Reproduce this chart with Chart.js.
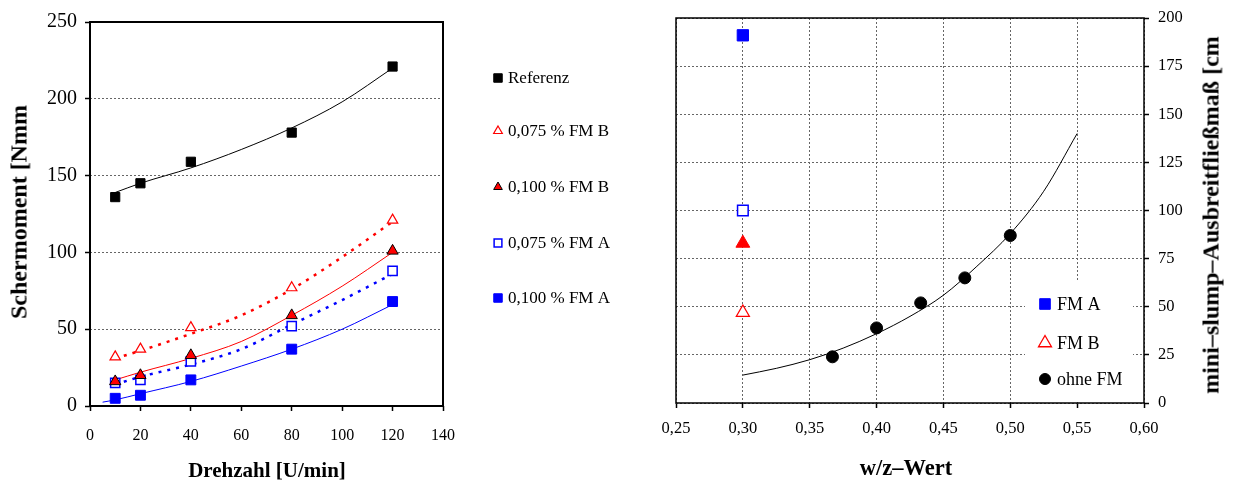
<!DOCTYPE html>
<html>
<head>
<meta charset="utf-8">
<script src="https://cdn.jsdelivr.net/npm/chart.js@4/dist/chart.umd.min.js"></script>
<style>
html, body { margin: 0; padding: 0; background: #fff; }
body { width: 1233px; height: 481px; position: relative; overflow: hidden; font-family: 'Liberation Serif', 'Times New Roman', serif; }
.box { position: absolute; top: 0; }
.box canvas { display: block; }
.title { position: absolute; font-weight: bold; white-space: nowrap; color: #000; transform: translate(-50%, -50%); }
.rot { transform: translate(-50%, -50%) rotate(-90deg); }
</style>
</head>
<body>
<div class="box" style="left:0"><canvas id="torque" width="660" height="481"></canvas></div>
<div class="box" style="left:660px"><canvas id="slump" width="573" height="481"></canvas></div>
<div class="title rot" style="left:19px;top:212px;font-size:24px">Schermoment [Nmm</div>
<div class="title" style="left:267px;top:470px;font-size:21px">Drehzahl [U/min]</div>
<div class="title" style="left:906px;top:468px;font-size:22.5px">w/z–Wert</div>
<div class="title rot" style="left:1211px;top:215px;font-size:24px">mini–slump–Ausbreitfließmaß [cm</div>
<script>
// left chart: Schermoment vs Drehzahl
const rpm = [10, 20, 40, 80, 120];
const torqueRef = [136, 145, 159, 178, 221];
const torqueB075 = [32, 37, 51, 77, 121];
const torqueB100 = [16, 20, 33, 59, 101];
const torqueA075 = [15, 17, 29, 52, 88];
const torqueA100 = [5, 7, 17, 37, 68];

// trend curves
const trendRpm = [10, 20, 40, 60, 80, 100, 120];
const trendRef = [139, 145, 155, 167, 181, 198, 220];
const trendB075 = [31, 36, 47, 59, 76, 97, 120];
const trendB100 = [17, 22, 31, 42, 59, 78, 100];
const trendA075 = [14, 19, 27, 37, 53, 69, 86];
const trendRpmA100 = [5, 10, 20, 40, 60, 80, 100, 120];
const trendA100 = [2.5, 4, 8, 16, 26, 37, 50, 66];

// right chart: mini-slump vs w/z
const wzOhneFM = [0.367, 0.40, 0.433, 0.466, 0.50];
const slumpOhneFM = [24, 39, 52, 65, 87];
const wzFM = [0.30];
const slumpA100 = [191];
const slumpA075 = [100];
const slumpB100 = [83];
const slumpB075 = [47];
const trendWz = [0.30, 0.325, 0.35, 0.375, 0.40, 0.425, 0.45, 0.475, 0.50, 0.525, 0.55];
const trendSlump = [14.5, 18, 22.5, 28.5, 36, 45, 56, 71, 88, 110, 140];
const wzTickLabels = ['0,25', '0,30', '0,35', '0,40', '0,45', '0,50', '0,55', '0,60'];

const FONT = "'Liberation Serif', 'Times New Roman', serif";
const pts = (xs, ys) => xs.map((x, i) => ({ x: x, y: ys[i] }));

const marks = (label, xs, ys, style, r, fill, stroke, bw) => ({
  label: label, data: pts(xs, ys), showLine: false,
  pointStyle: style, pointRadius: r, pointHoverRadius: r,
  backgroundColor: fill, borderColor: stroke, borderWidth: bw
});
const trend = (xs, ys, color, width, dash) => ({
  label: '', data: pts(xs, ys), showLine: true, pointRadius: 0, pointHoverRadius: 0,
  borderColor: color, borderWidth: width, borderDash: dash, cubicInterpolationMode: 'monotone', fill: false
});

// no extra room for edge tick labels, the plot box is fixed
const fixW = w => s => { s.width = w; s.paddingTop = 0; s.paddingBottom = 0; };
const fixH = h => s => { s.height = h; s.paddingLeft = 0; s.paddingRight = 0; };

const frame = {
  id: 'frame',
  afterDraw(chart, args, opts) {
    const { ctx, chartArea: a } = chart;
    ctx.save();
    ctx.strokeStyle = '#000';
    ctx.lineWidth = opts.width || 1.5;
    ctx.strokeRect(a.left, a.top, a.right - a.left, a.bottom - a.top);
    ctx.restore();
  }
};

const markerLegend = {
  id: 'markerLegend',
  afterDatasetsDraw(chart, args, opts) {
    const ctx = chart.ctx;
    ctx.save();
    if (opts.clear) {
      ctx.fillStyle = '#fff';
      ctx.fillRect(opts.clear[0], opts.clear[1], opts.clear[2], opts.clear[3]);
    }
    ctx.font = opts.font;
    ctx.textBaseline = 'middle';
    opts.items.forEach(it => {
      const ds = chart.data.datasets[it.ds];
      ctx.fillStyle = ds.backgroundColor;
      ctx.strokeStyle = ds.borderColor;
      ctx.lineWidth = ds.borderWidth;
      Chart.helpers.drawPoint(ctx, { pointStyle: ds.pointStyle, radius: it.r, rotation: 0, borderWidth: ds.borderWidth }, it.x, it.y);
      ctx.fillStyle = '#000';
      ctx.fillText(ds.label, it.tx, it.y + 1);
    });
    ctx.restore();
  }
};

Chart.defaults.font.family = FONT;
Chart.defaults.color = '#000';

new Chart(document.getElementById('torque'), {
  type: 'scatter',
  data: {
    datasets: [
      marks('Referenz', rpm, torqueRef, 'rect', 6.5, '#000', '#000', 1),
      marks('0,075 % FM B', rpm, torqueB075, 'triangle', 6, '#fff', '#ff0000', 1.2),
      marks('0,100 % FM B', rpm, torqueB100, 'triangle', 6.5, '#ff0000', '#000', 1),
      marks('0,075 % FM A', rpm, torqueA075, 'rect', 6.5, '#fff', '#0000ff', 1.5),
      marks('0,100 % FM A', rpm, torqueA100, 'rect', 7, '#0000ff', '#0000ff', 1),
      trend(trendRpm, trendRef, '#000', 1, []),
      trend(trendRpm, trendB075, '#ff0000', 2.5, [3, 6]),
      trend(trendRpm, trendB100, '#ff0000', 1, []),
      trend(trendRpm, trendA075, '#0000ff', 2.5, [3, 6]),
      trend(trendRpmA100, trendA100, '#0000ff', 1, [])
    ]
  },
  options: {
    responsive: false,
    devicePixelRatio: 1,
    animation: false,
    layout: { padding: { top: 22, right: 217, left: 0, bottom: 0 } },
    plugins: {
      legend: { display: false },
      tooltip: { enabled: false },
      frame: { width: 2 },
      markerLegend: {
        font: "17px " + FONT,
        items: [
          { ds: 0, r: 6, x: 498, tx: 508, y: 78 },
          { ds: 1, r: 5, x: 498, tx: 508, y: 131 },
          { ds: 2, r: 5, x: 498, tx: 508, y: 187 },
          { ds: 3, r: 5.5, x: 498, tx: 508, y: 243 },
          { ds: 4, r: 6, x: 498, tx: 508, y: 298 }
        ]
      }
    },
    scales: {
      x: {
        type: 'linear', min: 0, max: 140,
        ticks: { stepSize: 20, padding: 15, font: { size: 16 } },
        grid: { drawOnChartArea: false, tickLength: 5, tickColor: '#000', tickWidth: 1.5 },
        border: { display: false },
        afterFit: fixH(75)
      },
      y: {
        type: 'linear', min: 0, max: 250,
        ticks: { stepSize: 50, padding: 8, font: { size: 20 } },
        grid: { color: '#666', lineWidth: 1, tickLength: 5, tickColor: '#000', tickWidth: 1.5 },
        border: { display: false, dash: [2, 2] },
        afterFit: fixW(90)
      }
    }
  },
  plugins: [frame, markerLegend]
});

new Chart(document.getElementById('slump'), {
  type: 'scatter',
  data: {
    datasets: [
      marks('FM A', wzFM, slumpA100, 'rect', 8, '#0000ff', '#0000ff', 1),
      marks('0,075 % FM A', wzFM, slumpA075, 'rect', 7.5, '#fff', '#0000ff', 1.5),
      marks('0,100 % FM B', wzFM, slumpB100, 'triangle', 8, '#ff0000', '#ff0000', 1),
      marks('FM B', wzFM, slumpB075, 'triangle', 7.5, '#fff', '#ff0000', 1.3),
      marks('ohne FM', wzOhneFM, slumpOhneFM, 'circle', 6, '#000', '#000', 1),
      trend(trendWz, trendSlump, '#000', 1, [])
    ]
  },
  options: {
    responsive: false,
    devicePixelRatio: 1,
    animation: false,
    layout: { padding: { top: 18, right: 0, left: 16, bottom: 0 } },
    plugins: {
      legend: { display: false },
      tooltip: { enabled: false },
      frame: { width: 1.5 },
      markerLegend: {
        font: "18px " + FONT,
        clear: [365, 282, 108, 120],
        items: [
          { ds: 0, r: 7.5, x: 385, tx: 397, y: 304 },
          { ds: 3, r: 7.5, x: 385, tx: 397, y: 343 },
          { ds: 4, r: 5.5, x: 385, tx: 397, y: 379 }
        ]
      }
    },
    scales: {
      x: {
        type: 'linear', min: 0.25, max: 0.60,
        ticks: { stepSize: 0.05, padding: 11, font: { size: 16.5 }, callback: (v, i) => wzTickLabels[i] },
        grid: { color: '#666', lineWidth: 1, tickLength: 5, tickColor: '#000', tickWidth: 1.5 },
        border: { display: false, dash: [2, 2] },
        afterFit: fixH(78)
      },
      y: {
        type: 'linear', position: 'right', min: 0, max: 200,
        ticks: { stepSize: 25, padding: 9, font: { size: 16.5 } },
        grid: { color: '#666', lineWidth: 1, tickLength: 5, tickColor: '#000', tickWidth: 1.5 },
        border: { display: false, dash: [2, 2] },
        afterFit: fixW(89)
      }
    }
  },
  plugins: [frame, markerLegend]
});
</script>
</body>
</html>
